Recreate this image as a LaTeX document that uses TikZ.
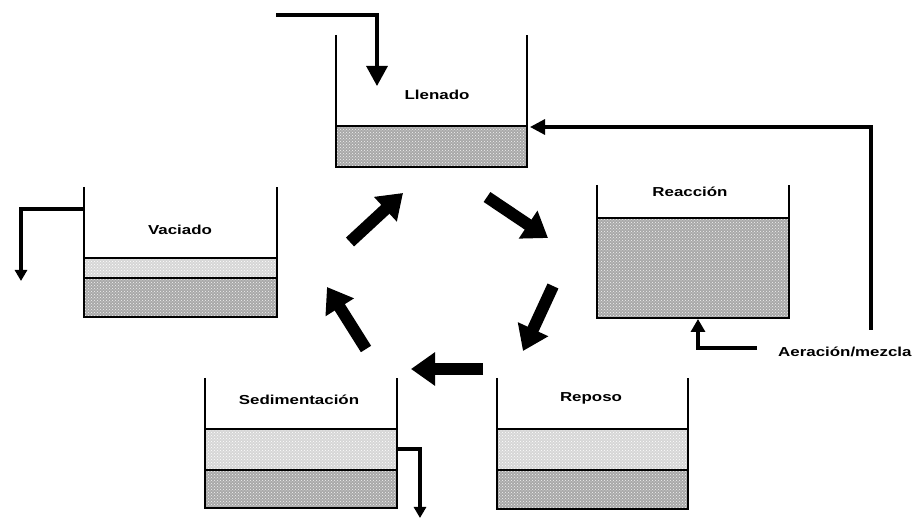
\documentclass[tikz,border=0pt]{standalone}
\usepackage{fontspec}
\newfontfamily\labfont[FakeStretch=1.3]{Liberation Sans}
\usetikzlibrary{arrows.meta,patterns}
\definecolor{darkliq}{gray}{0.66}
\definecolor{lightliq}{gray}{0.84}
\tikzset{
  wall/.style={line width=2pt, black},
  layer/.style={line width=1.6pt, black},
  pipe/.style={line width=3.2pt, black},
  darkfill/.style={fill=darkliq, postaction={pattern=crosshatch dots, pattern color=white!85!darkliq}},
  lightfill/.style={fill=lightliq, postaction={pattern=crosshatch dots, pattern color=white}},
  bigarrow/.style={line width=12pt, black, -{Triangle[length=24pt,width=32pt]}},
  lab/.style={font=\labfont\bfseries\fontsize{13}{15}\selectfont, inner sep=0pt}
}
\begin{document}
\begin{tikzpicture}[x=1pt,y=-1pt]
\useasboundingbox (0,0) rectangle (919,518);
% ---------- Llenado ----------
\path[darkfill] (336,126) rectangle (527,167);
\draw[layer] (336,126) -- (527,126);
\draw[wall] (336,35) -- (336,167) -- (527,167) -- (527,35);
\node[lab] (tLlen) at (437,95) {Llenado};
\coordinate (inS) at (276,15);
\coordinate (inT) at (377,86);
\draw[pipe, -{Triangle[length=20pt,width=21pt]}] (inS) -| (inT);
\coordinate (retS) at (871,330);
\coordinate (retT) at (530,127);
\draw[pipe, -{Triangle[length=15pt,width=15pt]}] (retS) |- (retT);
% ---------- Reaccion ----------
\path[darkfill] (597,218) rectangle (789,318);
\draw[layer] (597,218) -- (789,218);
\draw[wall] (597,185) -- (597,318) -- (789,318) -- (789,185);
\node[lab] (tReac) at (690,192) {Reacción};
\coordinate (aerS) at (757,348);
\coordinate (aerT) at (698,319);
\draw[pipe, -{Triangle[length=13pt,width=14pt]}] (aerS) -| (aerT);
\node[lab, anchor=west] (tAer) at (778,352) {Aeración/mezcla};
% ---------- Vaciado ----------
\path[lightfill] (84,258) rectangle (277,278);
\path[darkfill] (84,278) rectangle (277,317);
\draw[layer] (84,258) -- (277,258);
\draw[layer] (84,278) -- (277,278);
\draw[wall] (84,187) -- (84,317) -- (277,317) -- (277,187);
\node[lab] (tVac) at (180,230) {Vaciado};
\coordinate (vacS) at (84,209);
\coordinate (vacT) at (21,281);
\draw[pipe, -{Triangle[length=11pt,width=12pt]}] (vacS) -| (vacT);
% ---------- Sedimentacion ----------
\path[lightfill] (205,429) rectangle (397,470);
\path[darkfill] (205,470) rectangle (397,508);
\draw[layer] (205,429) -- (397,429);
\draw[layer] (205,470) -- (397,470);
\draw[wall] (205,378) -- (205,508) -- (397,508) -- (397,378);
\node[lab] (tSed) at (299,400) {Sedimentación};
\coordinate (sedS) at (397,449);
\coordinate (sedT) at (420,518);
\draw[pipe, -{Triangle[length=11pt,width=12pt]}] (sedS) -| (sedT);
% ---------- Reposo ----------
\path[lightfill] (497,429) rectangle (688,470);
\path[darkfill] (497,470) rectangle (688,509);
\draw[layer] (497,429) -- (688,429);
\draw[layer] (497,470) -- (688,470);
\draw[wall] (497,378) -- (497,509) -- (688,509) -- (688,378);
\node[lab] (tRep) at (591,398) {Reposo};
% ---------- cycle arrows ----------
\coordinate (a1s) at (350,242); \coordinate (a1t) at (403,193);
\coordinate (a2s) at (487,197); \coordinate (a2t) at (548,238);
\coordinate (a3s) at (553,286); \coordinate (a3t) at (523,351);
\coordinate (a4s) at (483,369); \coordinate (a4t) at (411,369);
\coordinate (a5s) at (366,349); \coordinate (a5t) at (327,287);
\draw[bigarrow] (a1s) -- (a1t);
\draw[bigarrow] (a2s) -- (a2t);
\draw[bigarrow] (a3s) -- (a3t);
\draw[bigarrow] (a4s) -- (a4t);
\draw[bigarrow] (a5s) -- (a5t);
\end{tikzpicture}
\end{document}
